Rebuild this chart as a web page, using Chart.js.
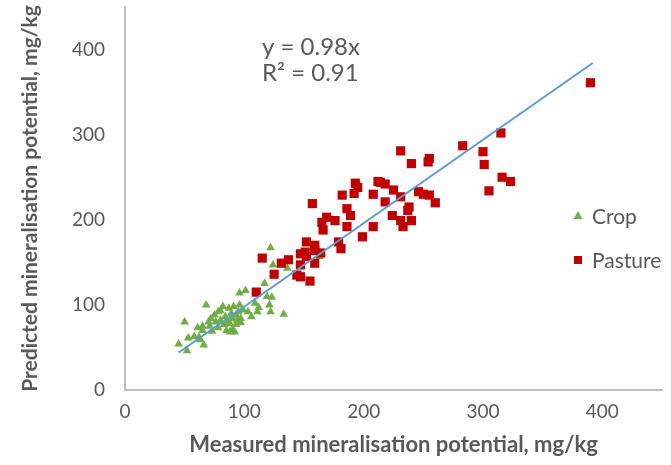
<!DOCTYPE html>
<html>
<head>
<meta charset="utf-8">
<script src="https://cdn.jsdelivr.net/npm/chart.js@4.4.0/dist/chart.umd.min.js"></script>
<style>
html, body { margin: 0; padding: 0; background: #fff; }
</style>
</head>
<body>
<canvas id="chart" width="671" height="465"></canvas>
<script>
// measured vs predicted, mg/kg
const cropPoints = [
    [45, 54], [52, 46], [50, 80], [53, 61], [58, 63], [62, 62], [61, 73], [65, 75], [66, 53], [63, 59],
    [68, 100], [70, 80], [71, 75], [73, 69], [75, 88], [76, 80], [78, 73], [80, 93], [80, 82], [82, 98],
    [84, 86], [85, 70], [86, 80], [87, 96], [88, 78], [89, 90], [90, 84], [90, 71], [91, 98], [92, 68],
    [93, 77], [93, 88], [94, 82], [95, 92], [96, 100], [97, 84], [97, 79], [96, 114], [99, 94], [101, 117],
    [103, 92], [106, 86], [109, 102], [112, 97], [111, 92], [117, 125], [119, 110], [121, 100], [122, 92], [123, 109],
    [122, 167], [124, 147], [133, 89], [136, 143], [163, 157], [72, 84], [83, 77], [88, 68], [65, 70], [78, 92]
];
const pasturePoints = [
    [390, 361], [315, 302], [283, 287], [300, 280], [301, 265], [316, 250], [323, 245], [305, 234], [231, 281], [240, 266],
    [255, 272], [254, 268], [214, 244], [218, 242], [225, 235], [231, 227], [246, 233], [250, 230], [255, 229], [260, 220],
    [218, 221], [224, 205], [238, 215], [237, 211], [231, 199], [233, 192], [240, 199], [208, 230], [208, 192], [199, 180],
    [193, 243], [192, 231], [195, 238], [186, 213], [189, 205], [176, 199], [169, 203], [165, 197], [166, 188], [182, 229],
    [157, 219], [212, 245], [186, 192], [179, 174], [181, 166], [152, 174], [151, 162], [159, 170], [159, 164], [147, 160],
    [152, 157], [159, 149], [164, 161], [147, 147], [144, 135], [147, 133], [155, 128], [115, 155], [131, 149], [137, 153],
    [125, 136], [110, 115]
];
const trendPoints = [[45, 44.1], [392, 384.2]];
const tickValues = [0, 100, 200, 300, 400];
const axisMax = 450;
const equationLines = ['y = 0.98x', 'R\u00b2 = 0.91'];
const seriesNames = ['Crop', 'Pasture'];

const textColor = '#595959';

function toXY(list) {
    return list.map(p => ({ x: p[0], y: p[1] }));
}

// equation text and legend, drawn on top of the plot
const overlay = {
    id: 'overlay',
    afterDraw(chart) {
        const ctx = chart.ctx;
        ctx.save();
        ctx.fillStyle = textColor;
        ctx.textBaseline = 'middle';
        ctx.textAlign = 'left';
        ctx.font = '24px Lato';
        ctx.fillText(equationLines[0], 262, 47);
        ctx.fillText(equationLines[1], 262, 73);

        ctx.font = '21px Lato';
        // Crop
        ctx.fillStyle = '#70AD47';
        ctx.beginPath();
        ctx.moveTo(578, 211);
        ctx.lineTo(582.5, 219);
        ctx.lineTo(573.5, 219);
        ctx.closePath();
        ctx.fill();
        ctx.fillStyle = textColor;
        ctx.fillText(seriesNames[0], 592, 217);
        // Pasture
        ctx.fillStyle = '#C00000';
        ctx.fillRect(574, 256, 8, 8);
        ctx.fillStyle = textColor;
        ctx.fillText(seriesNames[1], 592, 261);
        ctx.restore();
    }
};

const axisCommon = {
    type: 'linear',
    min: 0,
    max: axisMax,
    afterBuildTicks: s => { s.ticks = tickValues.map(v => ({ value: v })); },
    grid: { display: false, drawTicks: false },
    border: { display: true, color: '#bfbfbf', width: 2 },
};

new Chart(document.getElementById('chart'), {
    type: 'scatter',
    data: {
        datasets: [
            {
                label: 'Trend',
                data: toXY(trendPoints),
                showLine: true,
                borderColor: '#5B9BD5',
                borderWidth: 2,
                pointRadius: 0,
                order: 0
            },
            {
                label: seriesNames[1],
                data: toXY(pasturePoints),
                pointStyle: 'rect',
                pointRadius: 6.5,
                backgroundColor: '#C00000',
                borderColor: '#C00000',
                borderWidth: 0,
                order: 1
            },
            {
                label: seriesNames[0],
                data: toXY(cropPoints),
                pointStyle: 'triangle',
                pointRadius: 5,
                backgroundColor: '#70AD47',
                borderColor: '#70AD47',
                borderWidth: 0,
                order: 2
            }
        ]
    },
    options: {
        responsive: false,
        animation: false,
        layout: { padding: { top: 7, right: 9, left: 0, bottom: 0 } },
        plugins: {
            legend: { display: false },
            tooltip: { enabled: false }
        },
        scales: {
            x: {
                ...axisCommon,
                afterFit: s => { s.height = 75; s.paddingLeft = 0; s.paddingRight = 0; },
                ticks: { color: textColor, font: { family: 'Lato', size: 19 }, padding: 10, maxRotation: 0 },
                title: {
                    display: true,
                    text: 'Measured mineralisation potential, mg/kg',
                    color: textColor,
                    font: { family: 'Lato', size: 22, weight: 'bold' },
                    padding: 7
                }
            },
            y: {
                ...axisCommon,
                afterFit: s => { s.width = 125; s.paddingTop = 0; s.paddingBottom = 0; },
                ticks: { color: textColor, font: { family: 'Lato', size: 19 }, padding: 20 },
                title: {
                    display: true,
                    text: 'Predicted mineralisation potential, mg/kg',
                    color: textColor,
                    font: { family: 'Lato', size: 21, weight: 'bold' },
                    padding: 18
                }
            }
        }
    },
    plugins: [overlay]
});
</script>
</body>
</html>
